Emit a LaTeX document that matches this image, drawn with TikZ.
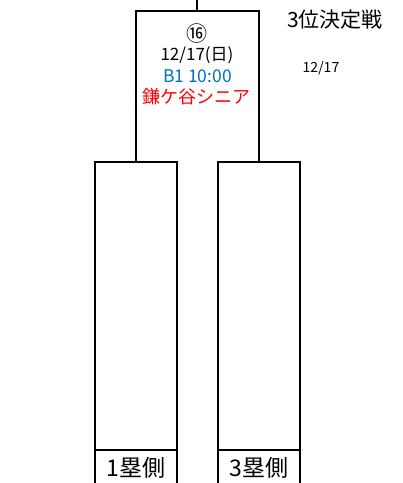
\documentclass[tikz,border=0pt]{standalone}
\usepackage{fontspec}
\setmainfont{Noto Sans CJK JP}
\definecolor{xlblue}{RGB}{0,112,192}
\definecolor{xlred}{RGB}{255,0,0}
\begin{document}
\begin{tikzpicture}[x=1pt,y=-1pt,
  bracket/.style={line width=2pt,line cap=rect},
  lbl/.style={inner sep=0pt,anchor=center}]
\useasboundingbox (0,0) rectangle (403,483);
% coordinates
\coordinate (top) at (197,0);
\coordinate (topj) at (197,11);
\coordinate (ul) at (136,11);
\coordinate (ur) at (259,11);
\coordinate (ulb) at (136,162);
\coordinate (urb) at (259,162);
% left lower box
\coordinate (lA) at (95,162);
\coordinate (lB) at (177,162);
\coordinate (lAb) at (95,484);
\coordinate (lBb) at (177,484);
\coordinate (lAm) at (95,450);
\coordinate (lBm) at (177,450);
% right lower box
\coordinate (rA) at (218,162);
\coordinate (rB) at (300,162);
\coordinate (rAb) at (218,484);
\coordinate (rBb) at (300,484);
\coordinate (rAm) at (218,450);
\coordinate (rBm) at (300,450);
\draw[bracket] (top) -- (topj);
\draw[bracket] (ulb) -- (ul) -- (ur) -- (urb);
\draw[bracket] (lAb) -- (lA) -- (lB) -- (lBb);
\draw[bracket] (lAm) -- (lBm);
\draw[bracket] (rAb) -- (rA) -- (rB) -- (rBb);
\draw[bracket] (rAm) -- (rBm);
% texts
\node[lbl] (num) at (197,34) {\fontsize{21}{21}\selectfont ⑯};
\node[lbl] (date) at (197,55) {\fontsize{17}{17}\selectfont 12/17(日)};
\node[lbl,text=xlblue] (time) at (197.5,76) {\fontsize{17.5}{17.5}\selectfont B1 10:00};
\node[lbl,text=xlred] (team) at (196.5,97) {\fontsize{18}{18}\selectfont 鎌ケ谷シニア};
\node[lbl] (title) at (335,20) {\fontsize{21}{21}\selectfont 3位決定戦};
\node[lbl] (sdate) at (321,68) {\fontsize{14}{14}\selectfont 12/17};
\node[lbl] (side1) at (136,468) {\fontsize{23}{23}\selectfont 1塁側};
\node[lbl] (side3) at (259,468) {\fontsize{23}{23}\selectfont 3塁側};
\end{tikzpicture}
\end{document}
